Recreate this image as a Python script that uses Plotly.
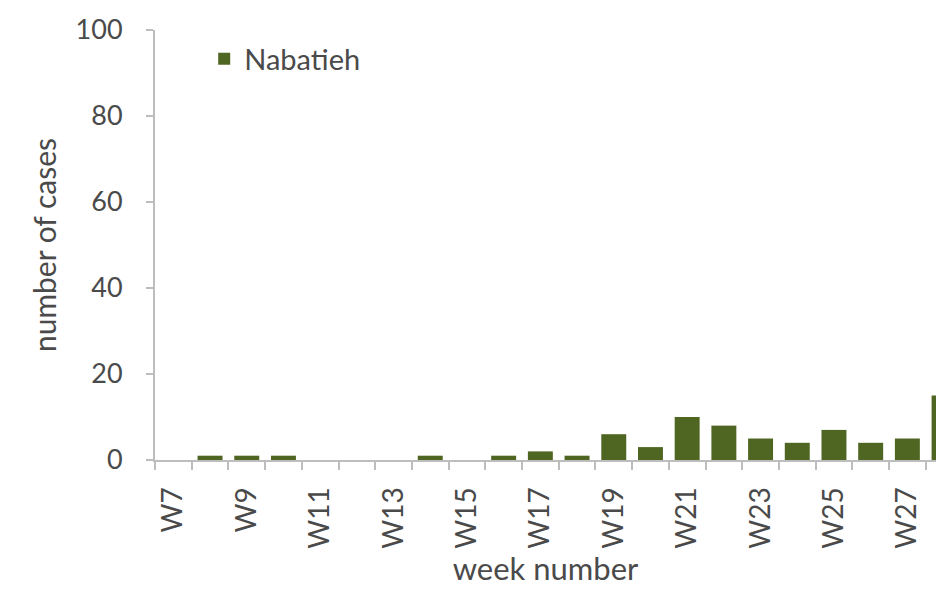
import plotly.graph_objects as go

weeks = ["W7", "W8", "W9", "W10", "W11", "W12", "W13", "W14", "W15", "W16", "W17",
         "W18", "W19", "W20", "W21", "W22", "W23", "W24", "W25", "W26", "W27", "W28"]
cases = [0, 1, 1, 1, 0, 0, 0, 1, 0, 1, 2, 1, 6, 3, 10, 8, 5, 4, 7, 4, 5, 15]
tick_labels = ["W7", "", "W9", "", "W11", "", "W13", "", "W15", "", "W17",
               "", "W19", "", "W21", "", "W23", "", "W25", "", "W27", ""]
series_name = "Nabatieh"

FONT = "Lato"
TXT = "#4a4a4a"
AX = "#bdbdbd"

fig = go.Figure()
fig.add_trace(go.Bar(x=weeks, y=cases, name=series_name, marker_color="#4f6622",
                     marker_line_width=0))

fig.update_layout(
    width=936, height=589,
    margin=dict(l=155, r=0, t=30, b=129),
    plot_bgcolor="white", paper_bgcolor="white",
    bargap=0.32,
    showlegend=True,
    legend=dict(x=0.063, y=0.933, xanchor="left", yanchor="middle",
                font=dict(family=FONT, size=29, color=TXT),
                bgcolor="rgba(0,0,0,0)", itemwidth=30),
    font=dict(family=FONT, color=TXT),
)
fig.update_xaxes(
    type="category", range=[-0.5, 20.78],
    tickmode="array", tickvals=weeks, ticktext=tick_labels,
    tickangle=-90, tickson="boundaries",
    ticks="outside", ticklen=8, tickcolor=AX, tickwidth=1.5,
    showline=True, linecolor=AX, linewidth=2,
    showgrid=False, ticklabelstandoff=14,
    tickfont=dict(family=FONT, size=28, color=TXT),
    title=dict(text="week number", font=dict(family=FONT, size=31, color=TXT), standoff=9),
)
fig.update_yaxes(
    range=[0, 100], tickvals=[0, 20, 40, 60, 80, 100],
    ticks="outside", ticklen=7, tickcolor=AX, tickwidth=1.5,
    showline=True, linecolor=AX, linewidth=2,
    showgrid=False, zeroline=False, ticklabelstandoff=18,
    tickfont=dict(family=FONT, size=27, color=TXT),
    title=dict(text="number of cases", font=dict(family=FONT, size=30, color=TXT), standoff=10),
)

fig.write_html(
    "out.html",
    config={"displayModeBar": False},
    post_script="document.body.style.margin='0';document.body.style.overflow='hidden';",
)
